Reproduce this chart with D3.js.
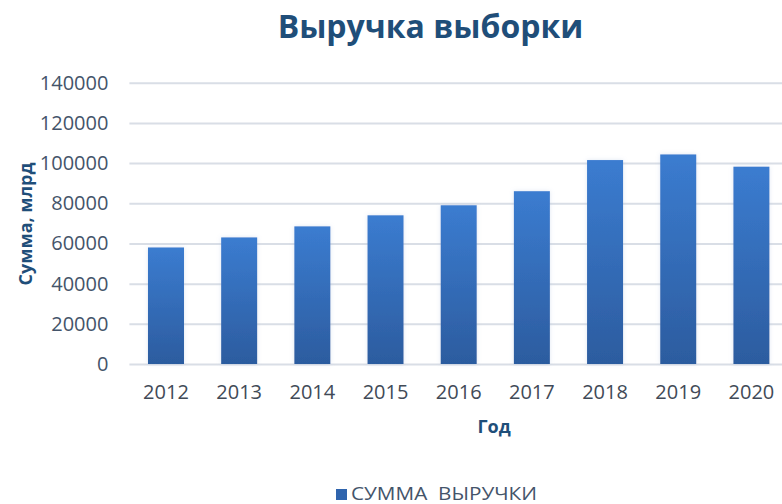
<!DOCTYPE html>
<html>
<head>
<meta charset="utf-8">
<script src="https://cdn.jsdelivr.net/npm/d3@7"></script>
<style>
  html, body { margin: 0; padding: 0; background: #ffffff; }
  svg { display: block; }
</style>
</head>
<body>
<svg id="chart" width="782" height="504"></svg>
<script>
// Revenue by year, billions
const years = ["2012", "2013", "2014", "2015", "2016", "2017", "2018", "2019", "2020"];
const revenue = [58000, 63000, 68500, 74000, 79000, 86000, 101500, 104300, 98200];
const yTicks = [0, 20000, 40000, 60000, 80000, 100000, 120000, 140000];

const titleText = "Выручка выборки";
const yTitle = "Сумма, млрд";
const xTitle = "Год";
const seriesName = "СУММА  ВЫРУЧКИ";

const svg = d3.select("#chart");
const margin = { left: 129.4, right: 788, top: 82.7, bottom: 364 };

const x = d3.scaleBand()
  .domain(years)
  .range([margin.left, margin.right])
  .paddingInner(0.508)
  .paddingOuter(0.254);

const y = d3.scaleLinear()
  .domain([0, 140000])
  .range([margin.bottom, margin.top]);

// Bar fill gradient
const defs = svg.append("defs");
const grad = defs.append("linearGradient")
  .attr("id", "barFill").attr("x1", 0).attr("y1", 0).attr("x2", 0).attr("y2", 1);
grad.append("stop").attr("offset", "0%").attr("stop-color", "#3b7cd0");
grad.append("stop").attr("offset", "100%").attr("stop-color", "#2c5c9f");

const glow = defs.append("filter").attr("id", "glow")
  .attr("x", "-30%").attr("y", "-10%").attr("width", "160%").attr("height", "120%");
glow.append("feGaussianBlur").attr("in", "SourceAlpha").attr("stdDeviation", 2).attr("result", "b");
glow.append("feFlood").attr("flood-color", "#9fb6d8").attr("flood-opacity", 0.35);
glow.append("feComposite").attr("in2", "b").attr("operator", "in").attr("result", "s");
const merge = glow.append("feMerge");
merge.append("feMergeNode").attr("in", "s");
merge.append("feMergeNode").attr("in", "SourceGraphic");

// Gridlines and y tick labels
const yAxis = svg.append("g")
  .attr("transform", `translate(${margin.left},0)`)
  .call(d3.axisLeft(y).tickValues(yTicks).tickSize(-(782 - margin.left + 10)).tickPadding(21).tickFormat(d3.format("d")));
yAxis.select(".domain").remove();
yAxis.selectAll(".tick line")
  .attr("stroke", "#d9dee6").attr("stroke-width", 2);
yAxis.selectAll(".tick text")
  .attr("fill", "#44546a")
  .style("font-family", "'Open Sans', sans-serif")
  .style("font-size", "20px");

// Bars
svg.append("g").selectAll("rect")
  .data(revenue)
  .join("rect")
  .attr("x", (d, i) => x(years[i]))
  .attr("width", x.bandwidth())
  .attr("y", d => y(d))
  .attr("height", d => y(0) - y(d))
  .attr("fill", "url(#barFill)")
  .attr("filter", "url(#glow)");

// Year labels
const xAxis = svg.append("g")
  .attr("transform", `translate(0,${margin.bottom})`)
  .call(d3.axisBottom(x).tickSize(0).tickPadding(21));
xAxis.select(".domain").remove();
xAxis.selectAll(".tick text")
  .attr("fill", "#414a57")
  .style("font-family", "'Open Sans', sans-serif")
  .style("font-size", "20px");

// Titles
svg.append("text")
  .attr("x", 430.5).attr("y", 38)
  .attr("text-anchor", "middle")
  .attr("fill", "#1f4e79")
  .style("font-family", "'Open Sans', sans-serif")
  .style("font-weight", "bold")
  .style("font-size", "32px")
  .text(titleText);

svg.append("text")
  .attr("transform", "translate(32,224) rotate(-90)")
  .attr("text-anchor", "middle")
  .attr("fill", "#1f4e79")
  .style("font-family", "'Open Sans', sans-serif")
  .style("font-weight", "bold")
  .style("font-size", "18px")
  .text(yTitle);

svg.append("text")
  .attr("x", 494).attr("y", 433)
  .attr("text-anchor", "middle")
  .attr("fill", "#1f4e79")
  .style("font-family", "'Open Sans', sans-serif")
  .style("font-weight", "bold")
  .style("font-size", "18px")
  .text(xTitle);

// Legend
const legend = svg.append("g");
legend.append("rect")
  .attr("x", 336).attr("y", 489).attr("width", 11).attr("height", 11)
  .attr("fill", "#2f64ad");
legend.append("text")
  .attr("x", 351).attr("y", 500)
  .attr("fill", "#44546a")
  .attr("textLength", 186)
  .attr("lengthAdjust", "spacingAndGlyphs")
  .style("font-family", "'Open Sans', sans-serif")
  .style("font-size", "18px")
  .style("white-space", "pre")
  .text(seriesName);
</script>
</body>
</html>
